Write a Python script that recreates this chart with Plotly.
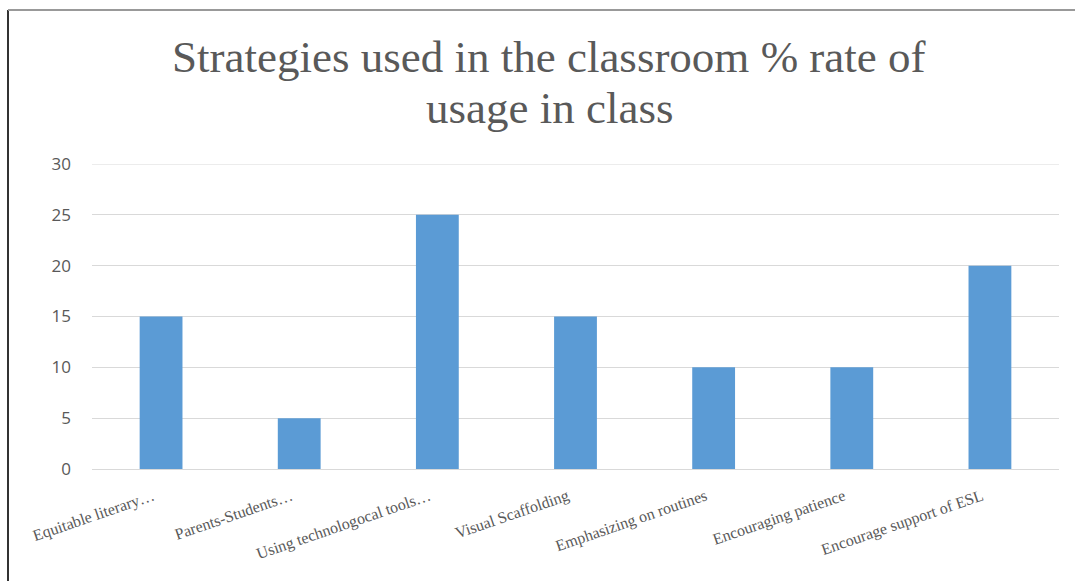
import plotly.graph_objects as go

# Classroom strategies and their % rate of usage
strategies = [
    "Equitable literary…",
    "Parents-Students…",
    "Using technologocal tools…",
    "Visual Scaffolding",
    "Emphasizing on routines",
    "Encouraging patience",
    "Encourage support of ESL",
]
usage_rate = [15, 5, 25, 15, 10, 10, 20]
y_ticks = [0, 5, 10, 15, 20, 25, 30]
title_lines = ["Strategies used in the classroom % rate of", "usage in class"]

TEXT_GREY = "#595959"
GRID_GREY = "#d9d9d9"
BAR_BLUE = "#5b9bd5"
SERIF = "Liberation Serif, Times New Roman, serif"

fig = go.Figure(
    go.Bar(
        x=strategies,
        y=usage_rate,
        marker=dict(color=BAR_BLUE, line=dict(width=0)),
    )
)

W, H = 1075, 581
L, R, T, B = 92, 16, 164, 112
pw, ph = W - L - R, H - T - B


def px_x(x):
    return (x - L) / pw


def px_y(y):
    return (H - B - y) / ph


# two-line chart title, placed line by line for tight spacing
title_annotations = [
    dict(text=line, xref="paper", yref="paper",
         x=px_x(549), y=px_y(yc), xanchor="center", yanchor="middle",
         showarrow=False, font=dict(family=SERIF, size=45, color=TEXT_GREY))
    for line, yc in zip(title_lines, [57, 108])
]

fig.update_layout(
    width=W,
    height=H,
    margin=dict(l=L, r=R, t=T, b=B, autoexpand=False),
    paper_bgcolor="white",
    plot_bgcolor="white",
    bargap=0.69,
    showlegend=False,
    annotations=title_annotations,
    xaxis=dict(
        tickangle=-19,
        tickfont=dict(family=SERIF, size=16, color=TEXT_GREY),
        showgrid=False,
        showline=True,
        linecolor=GRID_GREY,
        linewidth=1,
        ticks="",
        ticklabelstandoff=11,
        ticklabelshift=-8,
        automargin=False,
    ),
    yaxis=dict(
        range=[0, 30],
        tickvals=y_ticks,
        tickfont=dict(family="Open Sans, Liberation Sans, sans-serif", size=17, color=TEXT_GREY),
        showgrid=True,
        gridcolor=GRID_GREY,
        gridwidth=1,
        zeroline=False,
        showline=False,
        ticks="",
        ticklabelstandoff=20,
        automargin=False,
    ),
    shapes=[
        # top gridline at the axis maximum
        dict(type="line", xref="paper", yref="y",
             x0=0, x1=1, y0=y_ticks[-1], y1=y_ticks[-1],
             line=dict(color=GRID_GREY, width=1)),
        # outer frame: left edge and top edge
        dict(type="line", xref="paper", yref="paper",
             x0=px_x(8), x1=px_x(8), y0=px_y(10), y1=px_y(H),
             line=dict(color="#333333", width=2)),
        dict(type="line", xref="paper", yref="paper",
             x0=px_x(8), x1=px_x(W), y0=px_y(10), y1=px_y(10),
             line=dict(color="#999999", width=2)),
    ],
)

fig.write_html("out.html")
